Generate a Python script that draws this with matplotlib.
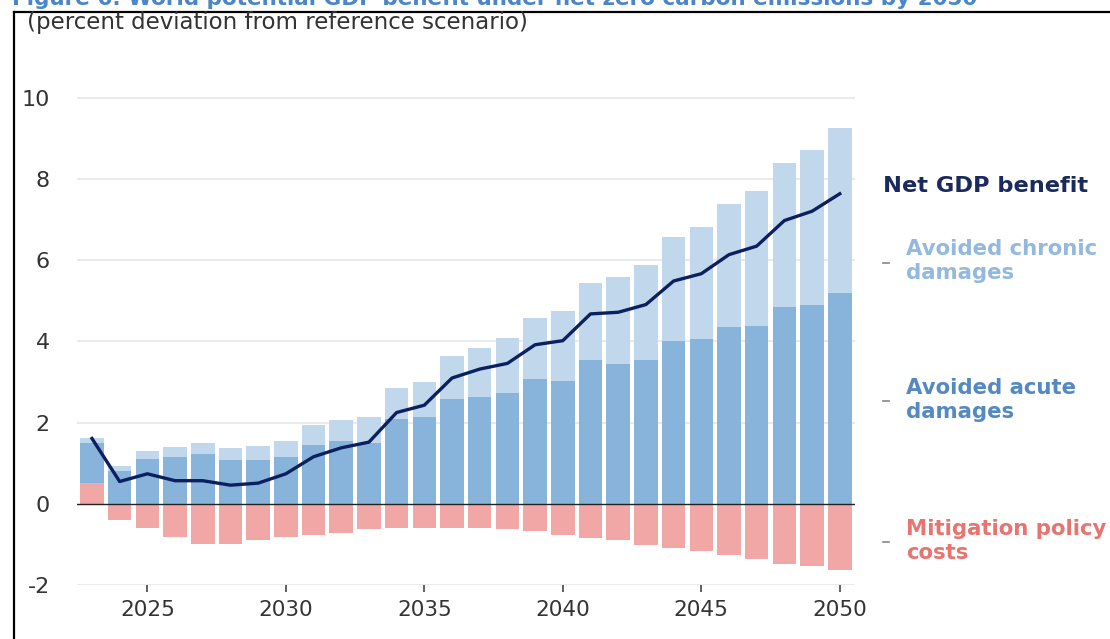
import matplotlib
matplotlib.use('Agg')
import matplotlib.pyplot as plt
from matplotlib.lines import Line2D
import numpy as np

# values (percent deviation from reference scenario)
years = list(range(2023, 2051))
acute = [0.98, 0.80, 1.11, 1.15, 1.23, 1.07, 1.07, 1.15, 1.46, 1.55, 1.51, 2.10, 2.14, 2.59,
         2.63, 2.72, 3.07, 3.03, 3.54, 3.45, 3.54, 4.00, 4.07, 4.35, 4.39, 4.84, 4.91, 5.19]
chronic = [0.12, 0.12, 0.20, 0.24, 0.26, 0.31, 0.35, 0.39, 0.48, 0.52, 0.63, 0.75, 0.86, 1.06,
           1.22, 1.36, 1.50, 1.73, 1.91, 2.15, 2.34, 2.57, 2.76, 3.03, 3.32, 3.57, 3.82, 4.07]
mitigation = [0.51, -0.40, -0.59, -0.81, -0.98, -0.98, -0.89, -0.81, -0.77, -0.72, -0.63, -0.59, -0.59, -0.59,
              -0.59, -0.63, -0.67, -0.76, -0.83, -0.89, -1.02, -1.08, -1.16, -1.27, -1.35, -1.48, -1.54, -1.63]
net_benefit = [1.61, 0.55, 0.74, 0.57, 0.57, 0.46, 0.51, 0.74, 1.16, 1.38, 1.52, 2.25, 2.43, 3.10,
               3.32, 3.46, 3.92, 4.02, 4.68, 4.72, 4.91, 5.49, 5.67, 6.14, 6.35, 6.98, 7.21, 7.64]

x_ticks = [2025, 2030, 2035, 2040, 2045, 2050]
y_ticks = [-2, 0, 2, 4, 6, 8, 10]

C_CHRONIC = '#c0d7ec'
C_ACUTE = '#88b3db'
C_MITIG = '#f0a7a5'
C_NET = '#0c1f5e'

W, H = 1110, 639
plt.rcParams['font.family'] = ['DejaVu Sans']
plt.rcParams['axes.unicode_minus'] = False
fig = plt.figure(figsize=(W / 100, H / 100), dpi=100)

# axes placed in pixel terms of the reference
left, right = 77, 855
y_top, y_bot = 77.7, 585
ax = fig.add_axes([left / W, (H - y_bot) / H, (right - left) / W, (y_bot - y_top) / H])

yrs = np.array(years)
acute_a = np.array(acute)
chronic_a = np.array(chronic)
mit_a = np.array(mitigation)
base = np.clip(mit_a, 0, None)

bw = 0.85
ax.bar(yrs, mit_a, width=bw, color=C_MITIG, zorder=2)
ax.bar(yrs, acute_a, width=bw, bottom=base, color=C_ACUTE, zorder=2)
ax.bar(yrs, chronic_a, width=bw, bottom=base + acute_a, color=C_CHRONIC, zorder=2)
ax.plot(yrs, net_benefit, color=C_NET, lw=2.4, zorder=4, solid_joinstyle='round')
ax.axhline(0, color='#222222', lw=1.0, zorder=3)

ax.set_xlim(2022.46, 2050.55)
ax.set_ylim(-2, 10.5)
ax.set_yticks(y_ticks)
ax.set_xticks(x_ticks)
ax.set_xticklabels([str(x) for x in x_ticks])
for y in y_ticks:
    if y != 0:
        ax.axhline(y, color='#e6e6e6', lw=1.2, zorder=1)

for s in ax.spines.values():
    s.set_visible(False)
ax.tick_params(axis='y', length=0, pad=19.5, labelsize=16, labelcolor='#333333')
ax.tick_params(axis='x', length=5, width=1.2, color='#444444', pad=6, labelsize=15.5, labelcolor='#333333')
ax.patch.set_alpha(0)

# cropped figure title at top edge (cut off in the reference too) and frame lines
fig.text(12 / W, 1 - 5 / H, 'Figure 6. World potential GDP benefit under net zero carbon emissions by 2050',
         color='#4a86c8', fontsize=15.5, fontweight='bold', va='baseline', ha='left')
fig.add_artist(Line2D([14 / W, 1], [1 - 12 / H, 1 - 12 / H], color='black', lw=1.6, transform=fig.transFigure))
fig.add_artist(Line2D([14 / W, 14 / W], [1 - 12 / H, 0], color='black', lw=1.6, transform=fig.transFigure))

fig.text(27 / W, 1 - 23 / H, '(percent deviation from reference scenario)', color='#333333',
         fontsize=16.5, va='center', ha='left')

# series labels on the right
lab_kw = dict(fontsize=15.3, fontweight='bold', va='center', ha='left', linespacing=1.28)
fig.text(883 / W, 1 - 186 / H, 'Net GDP benefit', color='#1b2a5c', fontsize=16.2, fontweight='bold',
         va='center', ha='left')
fig.text(906 / W, 1 - 261 / H, 'Avoided chronic\ndamages', color='#93b9de', **lab_kw)
fig.text(906 / W, 1 - 400 / H, 'Avoided acute\ndamages', color='#5589c2', **lab_kw)
fig.text(906 / W, 1 - 541 / H, 'Mitigation policy\ncosts', color='#e87470', **lab_kw)
for yy in [263, 401, 542]:
    fig.add_artist(Line2D([883 / W, 889 / W], [1 - yy / H, 1 - yy / H], color='#888888', lw=1.2,
                          transform=fig.transFigure))

fig.savefig('out.png', dpi=100)
